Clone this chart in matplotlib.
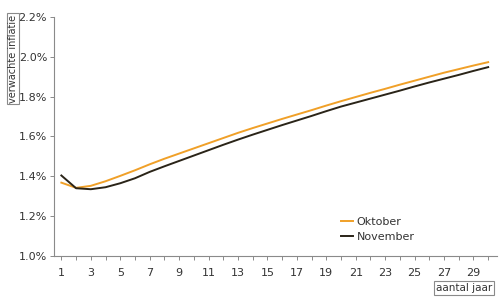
import numpy as np
import matplotlib.pyplot as plt
from matplotlib.ticker import FuncFormatter, MultipleLocator

plt.rcParams['font.family'] = ['Liberation Sans Narrow', 'DejaVu Sans']

# looptijd in jaren
jaren = list(range(1, 31))

# verwachte inflatie (%) per looptijd
oktober = [1.368, 1.342, 1.352, 1.375, 1.402, 1.430, 1.460, 1.488, 1.514, 1.540,
           1.566, 1.592, 1.618, 1.642, 1.665, 1.688, 1.710, 1.732, 1.755, 1.777,
           1.798, 1.819, 1.839, 1.860, 1.880, 1.900, 1.920, 1.938, 1.956, 1.973]
november = [1.404, 1.340, 1.335, 1.345, 1.365, 1.390, 1.422, 1.450, 1.477, 1.504,
            1.531, 1.558, 1.584, 1.609, 1.633, 1.657, 1.680, 1.703, 1.727, 1.750,
            1.770, 1.790, 1.810, 1.830, 1.851, 1.871, 1.890, 1.909, 1.929, 1.948]

y_ticks = [1.0, 1.2, 1.4, 1.6, 1.8, 2.0, 2.2]
x_ticklabels = list(range(1, 30, 2))

grijs = '#8a8a8a'
tekst = '#333333'

fig = plt.figure(figsize=(5, 3.08), dpi=100)
ax = fig.add_axes([0.108, 0.169, 0.886, 0.776])

ax.plot(jaren, oktober, color='#f0a028', lw=1.4, label='Oktober')
ax.plot(jaren, november, color='#2a2418', lw=1.4, label='November')

ax.set_xlim(0.5, 30.6)
ax.set_ylim(1.0, 2.2)
ax.set_yticks(y_ticks)
ax.yaxis.set_major_formatter(FuncFormatter(lambda v, p: f'{v:.1f}%'))
ax.set_xticks(x_ticklabels)
ax.xaxis.set_minor_locator(MultipleLocator(1))

for s in ['top', 'right']:
    ax.spines[s].set_visible(False)
for s in ['left', 'bottom']:
    ax.spines[s].set_color(grijs)
    ax.spines[s].set_linewidth(0.8)

ax.tick_params(axis='both', which='both', colors=grijs, labelcolor=tekst,
               labelsize=8, width=0.7)
ax.tick_params(axis='x', which='major', length=3, pad=6)
ax.tick_params(axis='x', which='minor', length=3)
ax.tick_params(axis='y', length=3, pad=2)

box = dict(boxstyle='square,pad=0.15', fc='white', ec=grijs, lw=0.8)
fig.text(0.026, 0.81, 'verwachte inflatie', rotation=90, ha='center', va='center',
         fontsize=7, color=tekst, bbox=box)
fig.text(0.928, 0.065, 'aantal jaar', ha='center', va='center',
         fontsize=7.5, color=tekst, bbox=box)

ax.legend(loc='lower left', bbox_to_anchor=(0.625, 0.015), frameon=False,
          fontsize=8, handlelength=1.1, handletextpad=0.3, labelspacing=0.5,
          labelcolor=tekst)

fig.savefig('out.png', dpi=100)
